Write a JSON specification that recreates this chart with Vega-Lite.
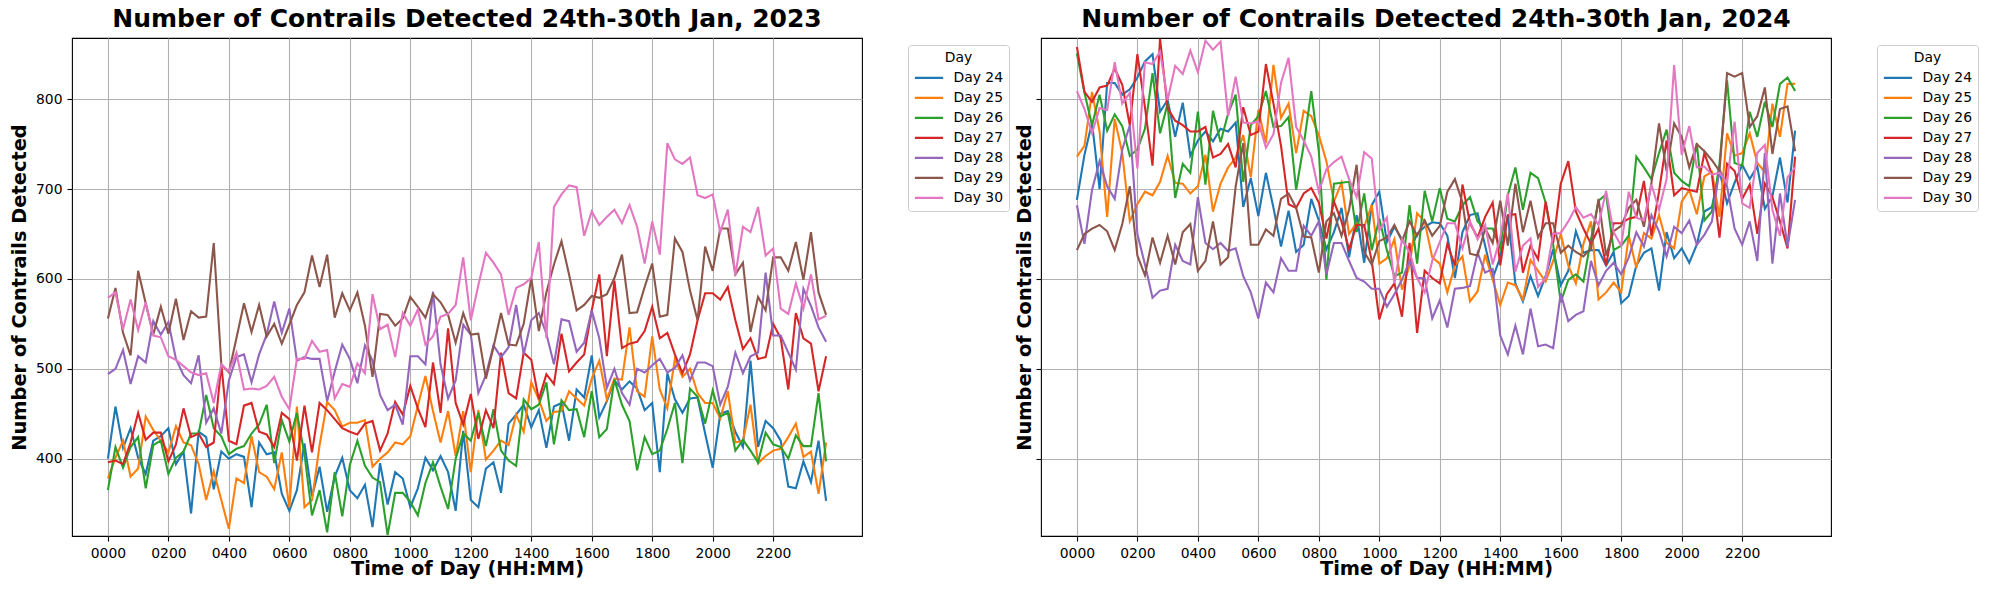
{
"$schema":"https://vega.github.io/schema/vega-lite/v6.json",
"background":"white",
"padding":{"left":8,"top":6,"right":0,"bottom":0},
"spacing":2,
"datasets":{
"y2023":[
{"m":0,"d":24,"n":400},{"m":15,"d":24,"n":458},{"m":30,"d":24,"n":412},{"m":45,"d":24,"n":434},{"m":60,"d":24,"n":401},{"m":75,"d":24,"n":383},{"m":90,"d":24,"n":420},{"m":105,"d":24,"n":425},
{"m":120,"d":24,"n":434},{"m":135,"d":24,"n":394},{"m":150,"d":24,"n":408},{"m":165,"d":24,"n":339},{"m":180,"d":24,"n":430},{"m":195,"d":24,"n":424},{"m":210,"d":24,"n":366},{"m":225,"d":24,"n":408},
{"m":240,"d":24,"n":400},{"m":255,"d":24,"n":405},{"m":270,"d":24,"n":402},{"m":285,"d":24,"n":346},{"m":300,"d":24,"n":418},{"m":315,"d":24,"n":405},{"m":330,"d":24,"n":407},{"m":345,"d":24,"n":361},
{"m":360,"d":24,"n":342},{"m":375,"d":24,"n":365},{"m":390,"d":24,"n":417},{"m":405,"d":24,"n":358},{"m":420,"d":24,"n":391},{"m":435,"d":24,"n":341},{"m":450,"d":24,"n":380},{"m":465,"d":24,"n":401},
{"m":480,"d":24,"n":365},{"m":495,"d":24,"n":356},{"m":510,"d":24,"n":371},{"m":525,"d":24,"n":324},{"m":540,"d":24,"n":395},{"m":555,"d":24,"n":349},{"m":570,"d":24,"n":385},{"m":585,"d":24,"n":378},
{"m":600,"d":24,"n":346},{"m":615,"d":24,"n":367},{"m":630,"d":24,"n":401},{"m":645,"d":24,"n":387},{"m":660,"d":24,"n":403},{"m":675,"d":24,"n":385},{"m":690,"d":24,"n":342},{"m":705,"d":24,"n":431},
{"m":720,"d":24,"n":354},{"m":735,"d":24,"n":346},{"m":750,"d":24,"n":389},{"m":765,"d":24,"n":396},{"m":780,"d":24,"n":362},{"m":795,"d":24,"n":439},{"m":810,"d":24,"n":449},{"m":825,"d":24,"n":460},
{"m":840,"d":24,"n":435},{"m":855,"d":24,"n":454},{"m":870,"d":24,"n":412},{"m":885,"d":24,"n":458},{"m":900,"d":24,"n":462},{"m":915,"d":24,"n":420},{"m":930,"d":24,"n":477},{"m":945,"d":24,"n":468},
{"m":960,"d":24,"n":515},{"m":975,"d":24,"n":446},{"m":990,"d":24,"n":464},{"m":1005,"d":24,"n":487},{"m":1020,"d":24,"n":477},{"m":1035,"d":24,"n":486},{"m":1050,"d":24,"n":478},{"m":1065,"d":24,"n":454},
{"m":1080,"d":24,"n":462},{"m":1095,"d":24,"n":385},{"m":1110,"d":24,"n":495},{"m":1125,"d":24,"n":466},{"m":1140,"d":24,"n":451},{"m":1155,"d":24,"n":467},{"m":1170,"d":24,"n":468},{"m":1185,"d":24,"n":428},
{"m":1200,"d":24,"n":390},{"m":1215,"d":24,"n":450},{"m":1230,"d":24,"n":453},{"m":1245,"d":24,"n":430},{"m":1260,"d":24,"n":413},{"m":1275,"d":24,"n":509},{"m":1290,"d":24,"n":413},{"m":1305,"d":24,"n":442},
{"m":1320,"d":24,"n":434},{"m":1335,"d":24,"n":420},{"m":1350,"d":24,"n":369},{"m":1365,"d":24,"n":367},{"m":1380,"d":24,"n":397},{"m":1395,"d":24,"n":374},{"m":1410,"d":24,"n":420},{"m":1425,"d":24,"n":353},
{"m":0,"d":25,"n":378},{"m":15,"d":25,"n":401},{"m":30,"d":25,"n":420},{"m":45,"d":25,"n":380},{"m":60,"d":25,"n":389},{"m":75,"d":25,"n":447},{"m":90,"d":25,"n":432},{"m":105,"d":25,"n":420},
{"m":120,"d":25,"n":407},{"m":135,"d":25,"n":436},{"m":150,"d":25,"n":418},{"m":165,"d":25,"n":415},{"m":180,"d":25,"n":394},{"m":195,"d":25,"n":354},{"m":210,"d":25,"n":386},{"m":225,"d":25,"n":354},
{"m":240,"d":25,"n":322},{"m":255,"d":25,"n":378},{"m":270,"d":25,"n":373},{"m":285,"d":25,"n":425},{"m":300,"d":25,"n":385},{"m":315,"d":25,"n":380},{"m":330,"d":25,"n":366},{"m":345,"d":25,"n":407},
{"m":360,"d":25,"n":346},{"m":375,"d":25,"n":458},{"m":390,"d":25,"n":346},{"m":405,"d":25,"n":354},{"m":420,"d":25,"n":415},{"m":435,"d":25,"n":463},{"m":450,"d":25,"n":454},{"m":465,"d":25,"n":436},
{"m":480,"d":25,"n":440},{"m":495,"d":25,"n":440},{"m":510,"d":25,"n":443},{"m":525,"d":25,"n":391},{"m":540,"d":25,"n":400},{"m":555,"d":25,"n":407},{"m":570,"d":25,"n":418},{"m":585,"d":25,"n":416},
{"m":600,"d":25,"n":425},{"m":615,"d":25,"n":459},{"m":630,"d":25,"n":492},{"m":645,"d":25,"n":453},{"m":660,"d":25,"n":418},{"m":675,"d":25,"n":453},{"m":690,"d":25,"n":403},{"m":705,"d":25,"n":453},
{"m":720,"d":25,"n":385},{"m":735,"d":25,"n":454},{"m":750,"d":25,"n":399},{"m":765,"d":25,"n":409},{"m":780,"d":25,"n":420},{"m":795,"d":25,"n":415},{"m":810,"d":25,"n":449},{"m":825,"d":25,"n":430},
{"m":840,"d":25,"n":485},{"m":855,"d":25,"n":466},{"m":870,"d":25,"n":442},{"m":885,"d":25,"n":452},{"m":900,"d":25,"n":453},{"m":915,"d":25,"n":475},{"m":930,"d":25,"n":467},{"m":945,"d":25,"n":459},
{"m":960,"d":25,"n":489},{"m":975,"d":25,"n":509},{"m":990,"d":25,"n":466},{"m":1005,"d":25,"n":489},{"m":1020,"d":25,"n":488},{"m":1035,"d":25,"n":546},{"m":1050,"d":25,"n":475},{"m":1065,"d":25,"n":469},
{"m":1080,"d":25,"n":536},{"m":1095,"d":25,"n":477},{"m":1110,"d":25,"n":456},{"m":1125,"d":25,"n":511},{"m":1140,"d":25,"n":491},{"m":1155,"d":25,"n":500},{"m":1170,"d":25,"n":473},{"m":1185,"d":25,"n":462},
{"m":1200,"d":25,"n":462},{"m":1215,"d":25,"n":445},{"m":1230,"d":25,"n":475},{"m":1245,"d":25,"n":418},{"m":1260,"d":25,"n":420},{"m":1275,"d":25,"n":460},{"m":1290,"d":25,"n":395},{"m":1305,"d":25,"n":403},
{"m":1320,"d":25,"n":409},{"m":1335,"d":25,"n":411},{"m":1350,"d":25,"n":424},{"m":1365,"d":25,"n":439},{"m":1380,"d":25,"n":402},{"m":1395,"d":25,"n":408},{"m":1410,"d":25,"n":361},{"m":1425,"d":25,"n":418},
{"m":0,"d":26,"n":365},{"m":15,"d":26,"n":413},{"m":30,"d":26,"n":390},{"m":45,"d":26,"n":413},{"m":60,"d":26,"n":424},{"m":75,"d":26,"n":367},{"m":90,"d":26,"n":415},{"m":105,"d":26,"n":420},
{"m":120,"d":26,"n":383},{"m":135,"d":26,"n":401},{"m":150,"d":26,"n":408},{"m":165,"d":26,"n":428},{"m":180,"d":26,"n":428},{"m":195,"d":26,"n":471},{"m":210,"d":26,"n":434},{"m":225,"d":26,"n":425},
{"m":240,"d":26,"n":405},{"m":255,"d":26,"n":411},{"m":270,"d":26,"n":414},{"m":285,"d":26,"n":428},{"m":300,"d":26,"n":438},{"m":315,"d":26,"n":460},{"m":330,"d":26,"n":395},{"m":345,"d":26,"n":443},
{"m":360,"d":26,"n":419},{"m":375,"d":26,"n":451},{"m":390,"d":26,"n":405},{"m":405,"d":26,"n":337},{"m":420,"d":26,"n":365},{"m":435,"d":26,"n":318},{"m":450,"d":26,"n":385},{"m":465,"d":26,"n":336},
{"m":480,"d":26,"n":393},{"m":495,"d":26,"n":420},{"m":510,"d":26,"n":392},{"m":525,"d":26,"n":379},{"m":540,"d":26,"n":374},{"m":555,"d":26,"n":315},{"m":570,"d":26,"n":362},{"m":585,"d":26,"n":362},
{"m":600,"d":26,"n":352},{"m":615,"d":26,"n":337},{"m":630,"d":26,"n":373},{"m":645,"d":26,"n":396},{"m":660,"d":26,"n":369},{"m":675,"d":26,"n":344},{"m":690,"d":26,"n":400},{"m":705,"d":26,"n":428},
{"m":720,"d":26,"n":420},{"m":735,"d":26,"n":451},{"m":750,"d":26,"n":414},{"m":765,"d":26,"n":455},{"m":780,"d":26,"n":409},{"m":795,"d":26,"n":398},{"m":810,"d":26,"n":392},{"m":825,"d":26,"n":466},
{"m":840,"d":26,"n":455},{"m":855,"d":26,"n":460},{"m":870,"d":26,"n":485},{"m":885,"d":26,"n":416},{"m":900,"d":26,"n":465},{"m":915,"d":26,"n":454},{"m":930,"d":26,"n":455},{"m":945,"d":26,"n":424},
{"m":960,"d":26,"n":475},{"m":975,"d":26,"n":424},{"m":990,"d":26,"n":433},{"m":1005,"d":26,"n":488},{"m":1020,"d":26,"n":460},{"m":1035,"d":26,"n":442},{"m":1050,"d":26,"n":387},{"m":1065,"d":26,"n":424},
{"m":1080,"d":26,"n":405},{"m":1095,"d":26,"n":409},{"m":1110,"d":26,"n":433},{"m":1125,"d":26,"n":462},{"m":1140,"d":26,"n":395},{"m":1155,"d":26,"n":478},{"m":1170,"d":26,"n":469},{"m":1185,"d":26,"n":439},
{"m":1200,"d":26,"n":476},{"m":1215,"d":26,"n":447},{"m":1230,"d":26,"n":451},{"m":1245,"d":26,"n":409},{"m":1260,"d":26,"n":421},{"m":1275,"d":26,"n":409},{"m":1290,"d":26,"n":396},{"m":1305,"d":26,"n":429},
{"m":1320,"d":26,"n":416},{"m":1335,"d":26,"n":413},{"m":1350,"d":26,"n":400},{"m":1365,"d":26,"n":426},{"m":1380,"d":26,"n":414},{"m":1395,"d":26,"n":414},{"m":1410,"d":26,"n":473},{"m":1425,"d":26,"n":397},
{"m":0,"d":27,"n":396},{"m":15,"d":27,"n":398},{"m":30,"d":27,"n":394},{"m":45,"d":27,"n":418},{"m":60,"d":27,"n":451},{"m":75,"d":27,"n":421},{"m":90,"d":27,"n":429},{"m":105,"d":27,"n":429},
{"m":120,"d":27,"n":397},{"m":135,"d":27,"n":416},{"m":150,"d":27,"n":456},{"m":165,"d":27,"n":424},{"m":180,"d":27,"n":428},{"m":195,"d":27,"n":413},{"m":210,"d":27,"n":418},{"m":225,"d":27,"n":505},
{"m":240,"d":27,"n":420},{"m":255,"d":27,"n":416},{"m":270,"d":27,"n":459},{"m":285,"d":27,"n":462},{"m":300,"d":27,"n":430},{"m":315,"d":27,"n":427},{"m":330,"d":27,"n":413},{"m":345,"d":27,"n":451},
{"m":360,"d":27,"n":444},{"m":375,"d":27,"n":398},{"m":390,"d":27,"n":459},{"m":405,"d":27,"n":407},{"m":420,"d":27,"n":462},{"m":435,"d":27,"n":454},{"m":450,"d":27,"n":444},{"m":465,"d":27,"n":434},
{"m":480,"d":27,"n":430},{"m":495,"d":27,"n":427},{"m":510,"d":27,"n":439},{"m":525,"d":27,"n":442},{"m":540,"d":27,"n":409},{"m":555,"d":27,"n":428},{"m":570,"d":27,"n":463},{"m":585,"d":27,"n":449},
{"m":600,"d":27,"n":481},{"m":615,"d":27,"n":456},{"m":630,"d":27,"n":435},{"m":645,"d":27,"n":507},{"m":660,"d":27,"n":451},{"m":675,"d":27,"n":545},{"m":690,"d":27,"n":462},{"m":705,"d":27,"n":438},
{"m":720,"d":27,"n":472},{"m":735,"d":27,"n":422},{"m":750,"d":27,"n":454},{"m":765,"d":27,"n":434},{"m":780,"d":27,"n":518},{"m":795,"d":27,"n":473},{"m":810,"d":27,"n":467},{"m":825,"d":27,"n":518},
{"m":840,"d":27,"n":510},{"m":855,"d":27,"n":466},{"m":870,"d":27,"n":494},{"m":885,"d":27,"n":483},{"m":900,"d":27,"n":539},{"m":915,"d":27,"n":497},{"m":930,"d":27,"n":507},{"m":945,"d":27,"n":516},
{"m":960,"d":27,"n":565},{"m":975,"d":27,"n":605},{"m":990,"d":27,"n":514},{"m":1005,"d":27,"n":598},{"m":1020,"d":27,"n":523},{"m":1035,"d":27,"n":528},{"m":1050,"d":27,"n":530},{"m":1065,"d":27,"n":542},
{"m":1080,"d":27,"n":569},{"m":1095,"d":27,"n":534},{"m":1110,"d":27,"n":540},{"m":1125,"d":27,"n":516},{"m":1140,"d":27,"n":495},{"m":1155,"d":27,"n":516},{"m":1170,"d":27,"n":554},{"m":1185,"d":27,"n":584},
{"m":1200,"d":27,"n":584},{"m":1215,"d":27,"n":577},{"m":1230,"d":27,"n":591},{"m":1245,"d":27,"n":554},{"m":1260,"d":27,"n":522},{"m":1275,"d":27,"n":534},{"m":1290,"d":27,"n":511},{"m":1305,"d":27,"n":513},
{"m":1320,"d":27,"n":550},{"m":1335,"d":27,"n":534},{"m":1350,"d":27,"n":477},{"m":1365,"d":27,"n":562},{"m":1380,"d":27,"n":534},{"m":1395,"d":27,"n":528},{"m":1410,"d":27,"n":475},{"m":1425,"d":27,"n":514},
{"m":0,"d":28,"n":494},{"m":15,"d":28,"n":500},{"m":30,"d":28,"n":521},{"m":45,"d":28,"n":483},{"m":60,"d":28,"n":514},{"m":75,"d":28,"n":507},{"m":90,"d":28,"n":553},{"m":105,"d":28,"n":538},
{"m":120,"d":28,"n":552},{"m":135,"d":28,"n":511},{"m":150,"d":28,"n":493},{"m":165,"d":28,"n":484},{"m":180,"d":28,"n":515},{"m":195,"d":28,"n":440},{"m":210,"d":28,"n":456},{"m":225,"d":28,"n":428},
{"m":240,"d":28,"n":487},{"m":255,"d":28,"n":513},{"m":270,"d":28,"n":516},{"m":285,"d":28,"n":485},{"m":300,"d":28,"n":516},{"m":315,"d":28,"n":538},{"m":330,"d":28,"n":575},{"m":345,"d":28,"n":540},
{"m":360,"d":28,"n":567},{"m":375,"d":28,"n":509},{"m":390,"d":28,"n":513},{"m":405,"d":28,"n":511},{"m":420,"d":28,"n":511},{"m":435,"d":28,"n":464},{"m":450,"d":28,"n":497},{"m":465,"d":28,"n":527},
{"m":480,"d":28,"n":511},{"m":495,"d":28,"n":484},{"m":510,"d":28,"n":526},{"m":525,"d":28,"n":509},{"m":540,"d":28,"n":471},{"m":555,"d":28,"n":454},{"m":570,"d":28,"n":460},{"m":585,"d":28,"n":438},
{"m":600,"d":28,"n":514},{"m":615,"d":28,"n":514},{"m":630,"d":28,"n":505},{"m":645,"d":28,"n":586},{"m":660,"d":28,"n":505},{"m":675,"d":28,"n":467},{"m":690,"d":28,"n":487},{"m":705,"d":28,"n":549},
{"m":720,"d":28,"n":538},{"m":735,"d":28,"n":473},{"m":750,"d":28,"n":493},{"m":765,"d":28,"n":526},{"m":780,"d":28,"n":513},{"m":795,"d":28,"n":524},{"m":810,"d":28,"n":571},{"m":825,"d":28,"n":516},
{"m":840,"d":28,"n":554},{"m":855,"d":28,"n":562},{"m":870,"d":28,"n":539},{"m":885,"d":28,"n":505},{"m":900,"d":28,"n":555},{"m":915,"d":28,"n":553},{"m":930,"d":28,"n":519},{"m":945,"d":28,"n":529},
{"m":960,"d":28,"n":565},{"m":975,"d":28,"n":534},{"m":990,"d":28,"n":479},{"m":1005,"d":28,"n":500},{"m":1020,"d":28,"n":473},{"m":1035,"d":28,"n":460},{"m":1050,"d":28,"n":500},{"m":1065,"d":28,"n":496},
{"m":1080,"d":28,"n":504},{"m":1095,"d":28,"n":511},{"m":1110,"d":28,"n":496},{"m":1125,"d":28,"n":501},{"m":1140,"d":28,"n":515},{"m":1155,"d":28,"n":487},{"m":1170,"d":28,"n":507},{"m":1185,"d":28,"n":507},
{"m":1200,"d":28,"n":503},{"m":1215,"d":28,"n":460},{"m":1230,"d":28,"n":480},{"m":1245,"d":28,"n":518},{"m":1260,"d":28,"n":495},{"m":1275,"d":28,"n":514},{"m":1290,"d":28,"n":518},{"m":1305,"d":28,"n":607},
{"m":1320,"d":28,"n":537},{"m":1335,"d":28,"n":537},{"m":1350,"d":28,"n":518},{"m":1365,"d":28,"n":499},{"m":1380,"d":28,"n":589},{"m":1395,"d":28,"n":570},{"m":1410,"d":28,"n":546},{"m":1425,"d":28,"n":530},
{"m":0,"d":29,"n":556},{"m":15,"d":29,"n":590},{"m":30,"d":29,"n":540},{"m":45,"d":29,"n":515},{"m":60,"d":29,"n":609},{"m":75,"d":29,"n":573},{"m":90,"d":29,"n":538},{"m":105,"d":29,"n":569},
{"m":120,"d":29,"n":539},{"m":135,"d":29,"n":578},{"m":150,"d":29,"n":532},{"m":165,"d":29,"n":564},{"m":180,"d":29,"n":557},{"m":195,"d":29,"n":558},{"m":210,"d":29,"n":640},{"m":225,"d":29,"n":505},
{"m":240,"d":29,"n":496},{"m":255,"d":29,"n":534},{"m":270,"d":29,"n":573},{"m":285,"d":29,"n":541},{"m":300,"d":29,"n":571},{"m":315,"d":29,"n":536},{"m":330,"d":29,"n":550},{"m":345,"d":29,"n":528},
{"m":360,"d":29,"n":549},{"m":375,"d":29,"n":571},{"m":390,"d":29,"n":585},{"m":405,"d":29,"n":626},{"m":420,"d":29,"n":591},{"m":435,"d":29,"n":627},{"m":450,"d":29,"n":557},{"m":465,"d":29,"n":584},
{"m":480,"d":29,"n":565},{"m":495,"d":29,"n":585},{"m":510,"d":29,"n":548},{"m":525,"d":29,"n":491},{"m":540,"d":29,"n":561},{"m":555,"d":29,"n":560},{"m":570,"d":29,"n":548},{"m":585,"d":29,"n":556},
{"m":600,"d":29,"n":580},{"m":615,"d":29,"n":569},{"m":630,"d":29,"n":557},{"m":645,"d":29,"n":583},{"m":660,"d":29,"n":574},{"m":675,"d":29,"n":560},{"m":690,"d":29,"n":529},{"m":705,"d":29,"n":562},
{"m":720,"d":29,"n":538},{"m":735,"d":29,"n":539},{"m":750,"d":29,"n":489},{"m":765,"d":29,"n":524},{"m":780,"d":29,"n":562},{"m":795,"d":29,"n":527},{"m":810,"d":29,"n":526},{"m":825,"d":29,"n":550},
{"m":840,"d":29,"n":601},{"m":855,"d":29,"n":542},{"m":870,"d":29,"n":585},{"m":885,"d":29,"n":616},{"m":900,"d":29,"n":642},{"m":915,"d":29,"n":605},{"m":930,"d":29,"n":565},{"m":945,"d":29,"n":571},
{"m":960,"d":29,"n":581},{"m":975,"d":29,"n":579},{"m":990,"d":29,"n":583},{"m":1005,"d":29,"n":601},{"m":1020,"d":29,"n":627},{"m":1035,"d":29,"n":562},{"m":1050,"d":29,"n":563},{"m":1065,"d":29,"n":591},
{"m":1080,"d":29,"n":617},{"m":1095,"d":29,"n":558},{"m":1110,"d":29,"n":560},{"m":1125,"d":29,"n":645},{"m":1140,"d":29,"n":630},{"m":1155,"d":29,"n":587},{"m":1170,"d":29,"n":554},{"m":1185,"d":29,"n":636},
{"m":1200,"d":29,"n":609},{"m":1215,"d":29,"n":656},{"m":1230,"d":29,"n":656},{"m":1245,"d":29,"n":605},{"m":1260,"d":29,"n":618},{"m":1275,"d":29,"n":541},{"m":1290,"d":29,"n":580},{"m":1305,"d":29,"n":565},
{"m":1320,"d":29,"n":624},{"m":1335,"d":29,"n":624},{"m":1350,"d":29,"n":609},{"m":1365,"d":29,"n":641},{"m":1380,"d":29,"n":599},{"m":1395,"d":29,"n":652},{"m":1410,"d":29,"n":585},{"m":1425,"d":29,"n":560},
{"m":0,"d":30,"n":579},{"m":15,"d":30,"n":585},{"m":30,"d":30,"n":544},{"m":45,"d":30,"n":577},{"m":60,"d":30,"n":543},{"m":75,"d":30,"n":574},{"m":90,"d":30,"n":537},{"m":105,"d":30,"n":535},
{"m":120,"d":30,"n":514},{"m":135,"d":30,"n":510},{"m":150,"d":30,"n":503},{"m":165,"d":30,"n":496},{"m":180,"d":30,"n":493},{"m":195,"d":30,"n":495},{"m":210,"d":30,"n":462},{"m":225,"d":30,"n":505},
{"m":240,"d":30,"n":497},{"m":255,"d":30,"n":518},{"m":270,"d":30,"n":477},{"m":285,"d":30,"n":478},{"m":300,"d":30,"n":477},{"m":315,"d":30,"n":481},{"m":330,"d":30,"n":491},{"m":345,"d":30,"n":469},
{"m":360,"d":30,"n":455},{"m":375,"d":30,"n":511},{"m":390,"d":30,"n":511},{"m":405,"d":30,"n":531},{"m":420,"d":30,"n":519},{"m":435,"d":30,"n":521},{"m":450,"d":30,"n":467},{"m":465,"d":30,"n":483},
{"m":480,"d":30,"n":480},{"m":495,"d":30,"n":506},{"m":510,"d":30,"n":495},{"m":525,"d":30,"n":583},{"m":540,"d":30,"n":544},{"m":555,"d":30,"n":549},{"m":570,"d":30,"n":513},{"m":585,"d":30,"n":562},
{"m":600,"d":30,"n":548},{"m":615,"d":30,"n":566},{"m":630,"d":30,"n":527},{"m":645,"d":30,"n":536},{"m":660,"d":30,"n":558},{"m":675,"d":30,"n":561},{"m":690,"d":30,"n":571},{"m":705,"d":30,"n":624},
{"m":720,"d":30,"n":554},{"m":735,"d":30,"n":593},{"m":750,"d":30,"n":629},{"m":765,"d":30,"n":618},{"m":780,"d":30,"n":605},{"m":795,"d":30,"n":560},{"m":810,"d":30,"n":590},{"m":825,"d":30,"n":594},
{"m":840,"d":30,"n":601},{"m":855,"d":30,"n":641},{"m":870,"d":30,"n":534},{"m":885,"d":30,"n":680},{"m":900,"d":30,"n":694},{"m":915,"d":30,"n":704},{"m":930,"d":30,"n":702},{"m":945,"d":30,"n":648},
{"m":960,"d":30,"n":675},{"m":975,"d":30,"n":660},{"m":990,"d":30,"n":669},{"m":1005,"d":30,"n":677},{"m":1020,"d":30,"n":662},{"m":1035,"d":30,"n":682},{"m":1050,"d":30,"n":658},{"m":1065,"d":30,"n":617},
{"m":1080,"d":30,"n":664},{"m":1095,"d":30,"n":627},{"m":1110,"d":30,"n":751},{"m":1125,"d":30,"n":733},{"m":1140,"d":30,"n":728},{"m":1155,"d":30,"n":735},{"m":1170,"d":30,"n":693},{"m":1185,"d":30,"n":690},
{"m":1200,"d":30,"n":694},{"m":1215,"d":30,"n":652},{"m":1230,"d":30,"n":677},{"m":1245,"d":30,"n":604},{"m":1260,"d":30,"n":658},{"m":1275,"d":30,"n":652},{"m":1290,"d":30,"n":680},{"m":1305,"d":30,"n":626},
{"m":1320,"d":30,"n":634},{"m":1335,"d":30,"n":567},{"m":1350,"d":30,"n":561},{"m":1365,"d":30,"n":595},{"m":1380,"d":30,"n":567},{"m":1395,"d":30,"n":605},{"m":1410,"d":30,"n":555},{"m":1425,"d":30,"n":559}
],
"y2024":[
{"m":0,"d":24,"n":688},{"m":15,"d":24,"n":738},{"m":30,"d":24,"n":774},{"m":45,"d":24,"n":700},{"m":60,"d":24,"n":818},{"m":75,"d":24,"n":818},{"m":90,"d":24,"n":805},{"m":105,"d":24,"n":811},
{"m":120,"d":24,"n":824},{"m":135,"d":24,"n":842},{"m":150,"d":24,"n":850},{"m":165,"d":24,"n":786},{"m":180,"d":24,"n":799},{"m":195,"d":24,"n":758},{"m":210,"d":24,"n":796},{"m":225,"d":24,"n":737},
{"m":240,"d":24,"n":754},{"m":255,"d":24,"n":764},{"m":270,"d":24,"n":753},{"m":285,"d":24,"n":767},{"m":300,"d":24,"n":764},{"m":315,"d":24,"n":774},{"m":330,"d":24,"n":680},{"m":345,"d":24,"n":712},
{"m":360,"d":24,"n":670},{"m":375,"d":24,"n":718},{"m":390,"d":24,"n":679},{"m":405,"d":24,"n":636},{"m":420,"d":24,"n":676},{"m":435,"d":24,"n":630},{"m":450,"d":24,"n":638},{"m":465,"d":24,"n":689},
{"m":480,"d":24,"n":665},{"m":495,"d":24,"n":633},{"m":510,"d":24,"n":652},{"m":525,"d":24,"n":679},{"m":540,"d":24,"n":624},{"m":555,"d":24,"n":671},{"m":570,"d":24,"n":618},{"m":585,"d":24,"n":682},
{"m":600,"d":24,"n":697},{"m":615,"d":24,"n":641},{"m":630,"d":24,"n":658},{"m":645,"d":24,"n":644},{"m":660,"d":24,"n":630},{"m":675,"d":24,"n":650},{"m":690,"d":24,"n":658},{"m":705,"d":24,"n":663},
{"m":720,"d":24,"n":662},{"m":735,"d":24,"n":648},{"m":750,"d":24,"n":601},{"m":765,"d":24,"n":652},{"m":780,"d":24,"n":671},{"m":795,"d":24,"n":673},{"m":810,"d":24,"n":637},{"m":825,"d":24,"n":601},
{"m":840,"d":24,"n":624},{"m":855,"d":24,"n":671},{"m":870,"d":24,"n":595},{"m":885,"d":24,"n":575},{"m":900,"d":24,"n":603},{"m":915,"d":24,"n":581},{"m":930,"d":24,"n":603},{"m":945,"d":24,"n":633},
{"m":960,"d":24,"n":593},{"m":975,"d":24,"n":609},{"m":990,"d":24,"n":653},{"m":1005,"d":24,"n":629},{"m":1020,"d":24,"n":632},{"m":1035,"d":24,"n":632},{"m":1050,"d":24,"n":615},{"m":1065,"d":24,"n":630},
{"m":1080,"d":24,"n":573},{"m":1095,"d":24,"n":581},{"m":1110,"d":24,"n":615},{"m":1125,"d":24,"n":629},{"m":1140,"d":24,"n":634},{"m":1155,"d":24,"n":587},{"m":1170,"d":24,"n":652},{"m":1185,"d":24,"n":623},
{"m":1200,"d":24,"n":634},{"m":1215,"d":24,"n":618},{"m":1230,"d":24,"n":638},{"m":1245,"d":24,"n":675},{"m":1260,"d":24,"n":680},{"m":1275,"d":24,"n":720},{"m":1290,"d":24,"n":684},{"m":1305,"d":24,"n":707},
{"m":1320,"d":24,"n":727},{"m":1335,"d":24,"n":711},{"m":1350,"d":24,"n":725},{"m":1365,"d":24,"n":678},{"m":1380,"d":24,"n":692},{"m":1395,"d":24,"n":735},{"m":1410,"d":24,"n":685},{"m":1425,"d":24,"n":765},
{"m":0,"d":25,"n":736},{"m":15,"d":25,"n":748},{"m":30,"d":25,"n":808},{"m":45,"d":25,"n":764},{"m":60,"d":25,"n":669},{"m":75,"d":25,"n":778},{"m":90,"d":25,"n":740},{"m":105,"d":25,"n":664},
{"m":120,"d":25,"n":683},{"m":135,"d":25,"n":697},{"m":150,"d":25,"n":693},{"m":165,"d":25,"n":708},{"m":180,"d":25,"n":737},{"m":195,"d":25,"n":707},{"m":210,"d":25,"n":706},{"m":225,"d":25,"n":695},
{"m":240,"d":25,"n":703},{"m":255,"d":25,"n":738},{"m":270,"d":25,"n":675},{"m":285,"d":25,"n":706},{"m":300,"d":25,"n":724},{"m":315,"d":25,"n":735},{"m":330,"d":25,"n":760},{"m":345,"d":25,"n":713},
{"m":360,"d":25,"n":788},{"m":375,"d":25,"n":751},{"m":390,"d":25,"n":838},{"m":405,"d":25,"n":779},{"m":420,"d":25,"n":795},{"m":435,"d":25,"n":740},{"m":450,"d":25,"n":787},{"m":465,"d":25,"n":781},
{"m":480,"d":25,"n":760},{"m":495,"d":25,"n":731},{"m":510,"d":25,"n":686},{"m":525,"d":25,"n":707},{"m":540,"d":25,"n":650},{"m":555,"d":25,"n":662},{"m":570,"d":25,"n":658},{"m":585,"d":25,"n":682},
{"m":600,"d":25,"n":617},{"m":615,"d":25,"n":623},{"m":630,"d":25,"n":644},{"m":645,"d":25,"n":588},{"m":660,"d":25,"n":615},{"m":675,"d":25,"n":673},{"m":690,"d":25,"n":664},{"m":705,"d":25,"n":624},
{"m":720,"d":25,"n":617},{"m":735,"d":25,"n":585},{"m":750,"d":25,"n":615},{"m":765,"d":25,"n":625},{"m":780,"d":25,"n":575},{"m":795,"d":25,"n":586},{"m":810,"d":25,"n":627},{"m":825,"d":25,"n":599},
{"m":840,"d":25,"n":571},{"m":855,"d":25,"n":596},{"m":870,"d":25,"n":593},{"m":885,"d":25,"n":577},{"m":900,"d":25,"n":621},{"m":915,"d":25,"n":609},{"m":930,"d":25,"n":597},{"m":945,"d":25,"n":620},
{"m":960,"d":25,"n":650},{"m":975,"d":25,"n":615},{"m":990,"d":25,"n":595},{"m":1005,"d":25,"n":639},{"m":1020,"d":25,"n":664},{"m":1035,"d":25,"n":577},{"m":1050,"d":25,"n":585},{"m":1065,"d":25,"n":596},
{"m":1080,"d":25,"n":585},{"m":1095,"d":25,"n":648},{"m":1110,"d":25,"n":612},{"m":1125,"d":25,"n":651},{"m":1140,"d":25,"n":645},{"m":1155,"d":25,"n":671},{"m":1170,"d":25,"n":640},{"m":1185,"d":25,"n":634},
{"m":1200,"d":25,"n":686},{"m":1215,"d":25,"n":699},{"m":1230,"d":25,"n":672},{"m":1245,"d":25,"n":714},{"m":1260,"d":25,"n":719},{"m":1275,"d":25,"n":669},{"m":1290,"d":25,"n":762},{"m":1305,"d":25,"n":737},
{"m":1320,"d":25,"n":740},{"m":1335,"d":25,"n":762},{"m":1350,"d":25,"n":729},{"m":1365,"d":25,"n":719},{"m":1380,"d":25,"n":795},{"m":1395,"d":25,"n":758},{"m":1410,"d":25,"n":817},{"m":1425,"d":25,"n":817},
{"m":0,"d":26,"n":851},{"m":15,"d":26,"n":807},{"m":30,"d":26,"n":771},{"m":45,"d":26,"n":805},{"m":60,"d":26,"n":765},{"m":75,"d":26,"n":783},{"m":90,"d":26,"n":770},{"m":105,"d":26,"n":737},
{"m":120,"d":26,"n":744},{"m":135,"d":26,"n":767},{"m":150,"d":26,"n":829},{"m":165,"d":26,"n":762},{"m":180,"d":26,"n":795},{"m":195,"d":26,"n":690},{"m":210,"d":26,"n":728},{"m":225,"d":26,"n":718},
{"m":240,"d":26,"n":786},{"m":255,"d":26,"n":705},{"m":270,"d":26,"n":787},{"m":285,"d":26,"n":752},{"m":300,"d":26,"n":784},{"m":315,"d":26,"n":805},{"m":330,"d":26,"n":708},{"m":345,"d":26,"n":771},
{"m":360,"d":26,"n":781},{"m":375,"d":26,"n":809},{"m":390,"d":26,"n":769},{"m":405,"d":26,"n":770},{"m":420,"d":26,"n":780},{"m":435,"d":26,"n":699},{"m":450,"d":26,"n":749},{"m":465,"d":26,"n":809},
{"m":480,"d":26,"n":742},{"m":495,"d":26,"n":599},{"m":510,"d":26,"n":706},{"m":525,"d":26,"n":707},{"m":540,"d":26,"n":708},{"m":555,"d":26,"n":652},{"m":570,"d":26,"n":695},{"m":585,"d":26,"n":632},
{"m":600,"d":26,"n":667},{"m":615,"d":26,"n":632},{"m":630,"d":26,"n":603},{"m":645,"d":26,"n":607},{"m":660,"d":26,"n":682},{"m":675,"d":26,"n":617},{"m":690,"d":26,"n":698},{"m":705,"d":26,"n":664},
{"m":720,"d":26,"n":701},{"m":735,"d":26,"n":667},{"m":750,"d":26,"n":664},{"m":765,"d":26,"n":682},{"m":780,"d":26,"n":691},{"m":795,"d":26,"n":664},{"m":810,"d":26,"n":656},{"m":825,"d":26,"n":656},
{"m":840,"d":26,"n":634},{"m":855,"d":26,"n":693},{"m":870,"d":26,"n":724},{"m":885,"d":26,"n":677},{"m":900,"d":26,"n":718},{"m":915,"d":26,"n":712},{"m":930,"d":26,"n":685},{"m":945,"d":26,"n":638},
{"m":960,"d":26,"n":574},{"m":975,"d":26,"n":599},{"m":990,"d":26,"n":605},{"m":1005,"d":26,"n":597},{"m":1020,"d":26,"n":644},{"m":1035,"d":26,"n":687},{"m":1050,"d":26,"n":694},{"m":1065,"d":26,"n":632},
{"m":1080,"d":26,"n":637},{"m":1095,"d":26,"n":648},{"m":1110,"d":26,"n":736},{"m":1125,"d":26,"n":724},{"m":1140,"d":26,"n":711},{"m":1155,"d":26,"n":740},{"m":1170,"d":26,"n":766},{"m":1185,"d":26,"n":718},
{"m":1200,"d":26,"n":709},{"m":1215,"d":26,"n":703},{"m":1230,"d":26,"n":751},{"m":1245,"d":26,"n":665},{"m":1260,"d":26,"n":675},{"m":1275,"d":26,"n":728},{"m":1290,"d":26,"n":821},{"m":1305,"d":26,"n":729},
{"m":1320,"d":26,"n":726},{"m":1335,"d":26,"n":786},{"m":1350,"d":26,"n":758},{"m":1365,"d":26,"n":797},{"m":1380,"d":26,"n":769},{"m":1395,"d":26,"n":817},{"m":1410,"d":26,"n":824},{"m":1425,"d":26,"n":809},
{"m":0,"d":27,"n":858},{"m":15,"d":27,"n":808},{"m":30,"d":27,"n":797},{"m":45,"d":27,"n":813},{"m":60,"d":27,"n":815},{"m":75,"d":27,"n":834},{"m":90,"d":27,"n":816},{"m":105,"d":27,"n":771},
{"m":120,"d":27,"n":850},{"m":135,"d":27,"n":791},{"m":150,"d":27,"n":726},{"m":165,"d":27,"n":867},{"m":180,"d":27,"n":790},{"m":195,"d":27,"n":776},{"m":210,"d":27,"n":771},{"m":225,"d":27,"n":764},
{"m":240,"d":27,"n":764},{"m":255,"d":27,"n":769},{"m":270,"d":27,"n":735},{"m":285,"d":27,"n":739},{"m":300,"d":27,"n":750},{"m":315,"d":27,"n":724},{"m":330,"d":27,"n":791},{"m":345,"d":27,"n":760},
{"m":360,"d":27,"n":764},{"m":375,"d":27,"n":839},{"m":390,"d":27,"n":795},{"m":405,"d":27,"n":748},{"m":420,"d":27,"n":683},{"m":435,"d":27,"n":679},{"m":450,"d":27,"n":695},{"m":465,"d":27,"n":701},
{"m":480,"d":27,"n":685},{"m":495,"d":27,"n":645},{"m":510,"d":27,"n":686},{"m":525,"d":27,"n":664},{"m":540,"d":27,"n":633},{"m":555,"d":27,"n":660},{"m":570,"d":27,"n":660},{"m":585,"d":27,"n":620},
{"m":600,"d":27,"n":555},{"m":615,"d":27,"n":583},{"m":630,"d":27,"n":595},{"m":645,"d":27,"n":558},{"m":660,"d":27,"n":640},{"m":675,"d":27,"n":540},{"m":690,"d":27,"n":609},{"m":705,"d":27,"n":601},
{"m":720,"d":27,"n":595},{"m":735,"d":27,"n":639},{"m":750,"d":27,"n":615},{"m":765,"d":27,"n":705},{"m":780,"d":27,"n":662},{"m":795,"d":27,"n":646},{"m":810,"d":27,"n":669},{"m":825,"d":27,"n":685},
{"m":840,"d":27,"n":615},{"m":855,"d":27,"n":671},{"m":870,"d":27,"n":672},{"m":885,"d":27,"n":607},{"m":900,"d":27,"n":637},{"m":915,"d":27,"n":622},{"m":930,"d":27,"n":686},{"m":945,"d":27,"n":640},
{"m":960,"d":27,"n":706},{"m":975,"d":27,"n":731},{"m":990,"d":27,"n":675},{"m":1005,"d":27,"n":656},{"m":1020,"d":27,"n":639},{"m":1035,"d":27,"n":656},{"m":1050,"d":27,"n":615},{"m":1065,"d":27,"n":662},
{"m":1080,"d":27,"n":662},{"m":1095,"d":27,"n":667},{"m":1110,"d":27,"n":669},{"m":1125,"d":27,"n":709},{"m":1140,"d":27,"n":648},{"m":1155,"d":27,"n":697},{"m":1170,"d":27,"n":754},{"m":1185,"d":27,"n":693},
{"m":1200,"d":27,"n":701},{"m":1215,"d":27,"n":699},{"m":1230,"d":27,"n":697},{"m":1245,"d":27,"n":740},{"m":1260,"d":27,"n":716},{"m":1275,"d":27,"n":646},{"m":1290,"d":27,"n":728},{"m":1305,"d":27,"n":720},
{"m":1320,"d":27,"n":689},{"m":1335,"d":27,"n":705},{"m":1350,"d":27,"n":650},{"m":1365,"d":27,"n":706},{"m":1380,"d":27,"n":691},{"m":1395,"d":27,"n":664},{"m":1410,"d":27,"n":634},{"m":1425,"d":27,"n":736},
{"m":0,"d":28,"n":682},{"m":15,"d":28,"n":639},{"m":30,"d":28,"n":699},{"m":45,"d":28,"n":731},{"m":60,"d":28,"n":703},{"m":75,"d":28,"n":689},{"m":90,"d":28,"n":744},{"m":105,"d":28,"n":771},
{"m":120,"d":28,"n":650},{"m":135,"d":28,"n":616},{"m":150,"d":28,"n":579},{"m":165,"d":28,"n":587},{"m":180,"d":28,"n":589},{"m":195,"d":28,"n":638},{"m":210,"d":28,"n":620},{"m":225,"d":28,"n":616},
{"m":240,"d":28,"n":691},{"m":255,"d":28,"n":640},{"m":270,"d":28,"n":633},{"m":285,"d":28,"n":640},{"m":300,"d":28,"n":631},{"m":315,"d":28,"n":634},{"m":330,"d":28,"n":603},{"m":345,"d":28,"n":585},
{"m":360,"d":28,"n":556},{"m":375,"d":28,"n":596},{"m":390,"d":28,"n":585},{"m":405,"d":28,"n":623},{"m":420,"d":28,"n":609},{"m":435,"d":28,"n":609},{"m":450,"d":28,"n":659},{"m":465,"d":28,"n":648},
{"m":480,"d":28,"n":664},{"m":495,"d":28,"n":605},{"m":510,"d":28,"n":640},{"m":525,"d":28,"n":640},{"m":540,"d":28,"n":620},{"m":555,"d":28,"n":601},{"m":570,"d":28,"n":597},{"m":585,"d":28,"n":589},
{"m":600,"d":28,"n":589},{"m":615,"d":28,"n":569},{"m":630,"d":28,"n":583},{"m":645,"d":28,"n":599},{"m":660,"d":28,"n":620},{"m":675,"d":28,"n":601},{"m":690,"d":28,"n":601},{"m":705,"d":28,"n":556},
{"m":720,"d":28,"n":576},{"m":735,"d":28,"n":546},{"m":750,"d":28,"n":589},{"m":765,"d":28,"n":590},{"m":780,"d":28,"n":592},{"m":795,"d":28,"n":629},{"m":810,"d":28,"n":607},{"m":825,"d":28,"n":611},
{"m":840,"d":28,"n":537},{"m":855,"d":28,"n":516},{"m":870,"d":28,"n":548},{"m":885,"d":28,"n":516},{"m":900,"d":28,"n":567},{"m":915,"d":28,"n":525},{"m":930,"d":28,"n":527},{"m":945,"d":28,"n":523},
{"m":960,"d":28,"n":584},{"m":975,"d":28,"n":553},{"m":990,"d":28,"n":560},{"m":1005,"d":28,"n":564},{"m":1020,"d":28,"n":620},{"m":1035,"d":28,"n":593},{"m":1050,"d":28,"n":609},{"m":1065,"d":28,"n":618},
{"m":1080,"d":28,"n":605},{"m":1095,"d":28,"n":624},{"m":1110,"d":28,"n":652},{"m":1125,"d":28,"n":636},{"m":1140,"d":28,"n":671},{"m":1155,"d":28,"n":653},{"m":1170,"d":28,"n":625},{"m":1185,"d":28,"n":658},
{"m":1200,"d":28,"n":651},{"m":1215,"d":28,"n":665},{"m":1230,"d":28,"n":638},{"m":1245,"d":28,"n":649},{"m":1260,"d":28,"n":664},{"m":1275,"d":28,"n":722},{"m":1290,"d":28,"n":703},{"m":1305,"d":28,"n":656},
{"m":1320,"d":28,"n":638},{"m":1335,"d":28,"n":664},{"m":1350,"d":28,"n":620},{"m":1365,"d":28,"n":740},{"m":1380,"d":28,"n":617},{"m":1395,"d":28,"n":695},{"m":1410,"d":28,"n":636},{"m":1425,"d":28,"n":688},
{"m":0,"d":29,"n":632},{"m":15,"d":29,"n":650},{"m":30,"d":29,"n":656},{"m":45,"d":29,"n":660},{"m":60,"d":29,"n":653},{"m":75,"d":29,"n":632},{"m":90,"d":29,"n":661},{"m":105,"d":29,"n":703},
{"m":120,"d":29,"n":626},{"m":135,"d":29,"n":604},{"m":150,"d":29,"n":646},{"m":165,"d":29,"n":618},{"m":180,"d":29,"n":648},{"m":195,"d":29,"n":616},{"m":210,"d":29,"n":652},{"m":225,"d":29,"n":661},
{"m":240,"d":29,"n":609},{"m":255,"d":29,"n":620},{"m":270,"d":29,"n":664},{"m":285,"d":29,"n":616},{"m":300,"d":29,"n":624},{"m":315,"d":29,"n":703},{"m":330,"d":29,"n":751},{"m":345,"d":29,"n":638},
{"m":360,"d":29,"n":638},{"m":375,"d":29,"n":655},{"m":390,"d":29,"n":648},{"m":405,"d":29,"n":689},{"m":420,"d":29,"n":695},{"m":435,"d":29,"n":679},{"m":450,"d":29,"n":647},{"m":465,"d":29,"n":646},
{"m":480,"d":29,"n":607},{"m":495,"d":29,"n":664},{"m":510,"d":29,"n":673},{"m":525,"d":29,"n":648},{"m":540,"d":29,"n":677},{"m":555,"d":29,"n":727},{"m":570,"d":29,"n":630},{"m":585,"d":29,"n":616},
{"m":600,"d":29,"n":642},{"m":615,"d":29,"n":646},{"m":630,"d":29,"n":660},{"m":645,"d":29,"n":642},{"m":660,"d":29,"n":664},{"m":675,"d":29,"n":648},{"m":690,"d":29,"n":665},{"m":705,"d":29,"n":648},
{"m":720,"d":29,"n":659},{"m":735,"d":29,"n":697},{"m":750,"d":29,"n":711},{"m":765,"d":29,"n":685},{"m":780,"d":29,"n":628},{"m":795,"d":29,"n":626},{"m":810,"d":29,"n":656},{"m":825,"d":29,"n":640},
{"m":840,"d":29,"n":687},{"m":855,"d":29,"n":637},{"m":870,"d":29,"n":706},{"m":885,"d":29,"n":652},{"m":900,"d":29,"n":687},{"m":915,"d":29,"n":646},{"m":930,"d":29,"n":662},{"m":945,"d":29,"n":662},
{"m":960,"d":29,"n":629},{"m":975,"d":29,"n":637},{"m":990,"d":29,"n":630},{"m":1005,"d":29,"n":625},{"m":1020,"d":29,"n":634},{"m":1035,"d":29,"n":689},{"m":1050,"d":29,"n":626},{"m":1065,"d":29,"n":653},
{"m":1080,"d":29,"n":659},{"m":1095,"d":29,"n":679},{"m":1110,"d":29,"n":688},{"m":1125,"d":29,"n":658},{"m":1140,"d":29,"n":707},{"m":1155,"d":29,"n":773},{"m":1170,"d":29,"n":720},{"m":1185,"d":29,"n":773},
{"m":1200,"d":29,"n":758},{"m":1215,"d":29,"n":724},{"m":1230,"d":29,"n":750},{"m":1245,"d":29,"n":742},{"m":1260,"d":29,"n":732},{"m":1275,"d":29,"n":720},{"m":1290,"d":29,"n":829},{"m":1305,"d":29,"n":825},
{"m":1320,"d":29,"n":829},{"m":1335,"d":29,"n":769},{"m":1350,"d":29,"n":781},{"m":1365,"d":29,"n":813},{"m":1380,"d":29,"n":739},{"m":1395,"d":29,"n":789},{"m":1410,"d":29,"n":792},{"m":1425,"d":29,"n":742},
{"m":0,"d":30,"n":809},{"m":15,"d":30,"n":789},{"m":30,"d":30,"n":762},{"m":45,"d":30,"n":790},{"m":60,"d":30,"n":788},{"m":75,"d":30,"n":841},{"m":90,"d":30,"n":795},{"m":105,"d":30,"n":807},
{"m":120,"d":30,"n":723},{"m":135,"d":30,"n":841},{"m":150,"d":30,"n":839},{"m":165,"d":30,"n":853},{"m":180,"d":30,"n":799},{"m":195,"d":30,"n":837},{"m":210,"d":30,"n":828},{"m":225,"d":30,"n":854},
{"m":240,"d":30,"n":830},{"m":255,"d":30,"n":865},{"m":270,"d":30,"n":855},{"m":285,"d":30,"n":864},{"m":300,"d":30,"n":781},{"m":315,"d":30,"n":825},{"m":330,"d":30,"n":774},{"m":345,"d":30,"n":773},
{"m":360,"d":30,"n":775},{"m":375,"d":30,"n":746},{"m":390,"d":30,"n":761},{"m":405,"d":30,"n":818},{"m":420,"d":30,"n":846},{"m":435,"d":30,"n":769},{"m":450,"d":30,"n":754},{"m":465,"d":30,"n":736},
{"m":480,"d":30,"n":697},{"m":495,"d":30,"n":722},{"m":510,"d":30,"n":730},{"m":525,"d":30,"n":736},{"m":540,"d":30,"n":711},{"m":555,"d":30,"n":691},{"m":570,"d":30,"n":741},{"m":585,"d":30,"n":734},
{"m":600,"d":30,"n":654},{"m":615,"d":30,"n":668},{"m":630,"d":30,"n":595},{"m":645,"d":30,"n":644},{"m":660,"d":30,"n":630},{"m":675,"d":30,"n":601},{"m":690,"d":30,"n":585},{"m":705,"d":30,"n":620},
{"m":720,"d":30,"n":641},{"m":735,"d":30,"n":662},{"m":750,"d":30,"n":662},{"m":765,"d":30,"n":634},{"m":780,"d":30,"n":664},{"m":795,"d":30,"n":644},{"m":810,"d":30,"n":660},{"m":825,"d":30,"n":616},
{"m":840,"d":30,"n":646},{"m":855,"d":30,"n":695},{"m":870,"d":30,"n":608},{"m":885,"d":30,"n":637},{"m":900,"d":30,"n":645},{"m":915,"d":30,"n":591},{"m":930,"d":30,"n":601},{"m":945,"d":30,"n":650},
{"m":960,"d":30,"n":651},{"m":975,"d":30,"n":664},{"m":990,"d":30,"n":680},{"m":1005,"d":30,"n":668},{"m":1020,"d":30,"n":672},{"m":1035,"d":30,"n":660},{"m":1050,"d":30,"n":698},{"m":1065,"d":30,"n":652},
{"m":1080,"d":30,"n":637},{"m":1095,"d":30,"n":697},{"m":1110,"d":30,"n":668},{"m":1125,"d":30,"n":665},{"m":1140,"d":30,"n":705},{"m":1155,"d":30,"n":677},{"m":1170,"d":30,"n":711},{"m":1185,"d":30,"n":838},
{"m":1200,"d":30,"n":738},{"m":1215,"d":30,"n":770},{"m":1230,"d":30,"n":724},{"m":1245,"d":30,"n":725},{"m":1260,"d":30,"n":716},{"m":1275,"d":30,"n":718},{"m":1290,"d":30,"n":707},{"m":1305,"d":30,"n":775},
{"m":1320,"d":30,"n":684},{"m":1335,"d":30,"n":679},{"m":1350,"d":30,"n":740},{"m":1365,"d":30,"n":749},{"m":1380,"d":30,"n":677},{"m":1395,"d":30,"n":648},{"m":1410,"d":30,"n":713},{"m":1425,"d":30,"n":724}
]
},
"hconcat":[
{
"data":{"name":"y2023"},
"title":{"text":"Number of Contrails Detected 24th-30th Jan, 2023"},
"width":790,"height":498,
"mark":{"type":"line","strokeWidth":2.1,"clip":true},
"encoding":{
"x":{"field":"m","type":"quantitative","scale":{"domain":[-71.25,1496.25],"nice":false,"zero":false},
"axis":{"values":[0,120,240,360,480,600,720,840,960,1080,1200,1320],"labelExpr":"(datum.value < 600 ? '0' : '') + (datum.value/60) + '00'","title":"Time of Day (HH:MM)"}},
"y":{"field":"n","type":"quantitative","scale":{"domain":[314,868],"nice":false,"zero":false},
"axis":{"values":[400,500,600,700,800],"title":"Number of Contrails Detected"}},
"color":{"field":"d","type":"nominal","scale":{"domain":[24,25,26,27,28,29,30],"range":["#1f77b4","#ff7f0e","#2ca02c","#d62728","#9467bd","#8c564b","#e377c2"]},
"legend":{"title":"Day","labelExpr":"'Day ' + datum.label","orient":"none","legendX":836,"legendY":7}}
}
},
{
"data":{"name":"y2024"},
"title":{"text":"Number of Contrails Detected 24th-30th Jan, 2024"},
"width":790,"height":498,
"mark":{"type":"line","strokeWidth":2.1,"clip":true},
"encoding":{
"x":{"field":"m","type":"quantitative","scale":{"domain":[-71.25,1496.25],"nice":false,"zero":false},
"axis":{"values":[0,120,240,360,480,600,720,840,960,1080,1200,1320],"labelExpr":"(datum.value < 600 ? '0' : '') + (datum.value/60) + '00'","title":"Time of Day (HH:MM)"}},
"y":{"field":"n","type":"quantitative","scale":{"domain":[314,868],"nice":false,"zero":false},
"axis":{"values":[400,500,600,700,800],"labels":false,"title":"Number of Contrails Detected","titlePadding":1}},
"color":{"field":"d","type":"nominal","scale":{"domain":[24,25,26,27,28,29,30],"range":["#1f77b4","#ff7f0e","#2ca02c","#d62728","#9467bd","#8c564b","#e377c2"]},
"legend":{"title":"Day","labelExpr":"'Day ' + datum.label","orient":"none","legendX":836,"legendY":7}}
}
}
],
"resolve":{"scale":{"color":"independent"}},
"config":{
"font":"DejaVu Sans",
"view":{"stroke":"#000000","strokeWidth":1.1},
"title":{"font":"DejaVu Sans","fontSize":25,"fontWeight":"bold","color":"#000000","anchor":"middle","frame":"group","offset":6},
"axis":{"domain":false,"grid":true,"gridColor":"#b0b0b0","gridWidth":1.1,"tickColor":"#000000","tickSize":5,"tickWidth":1.1,"labelFont":"DejaVu Sans","labelFontSize":13.9,"labelColor":"#000000","labelPadding":5,"titleFont":"DejaVu Sans","titleFontSize":19.4,"titleFontWeight":"bold","titleColor":"#000000","titlePadding":6},
"axisX":{"labelAngle":0,"labelFlush":false,"titlePadding":0},
"legend":{"padding":5.5,"strokeColor":"#cccccc","fillColor":"#ffffff","cornerRadius":3,"titleFont":"DejaVu Sans","titleFontSize":13.9,"titleFontWeight":"normal","titleColor":"#000000","titleAnchor":"middle","titlePadding":6.5,"labelFont":"DejaVu Sans","labelFontSize":13.9,"labelColor":"#000000","labelOffset":9,"symbolType":"stroke","symbolStrokeWidth":2.1,"symbolSize":800,"clipHeight":14,"rowPadding":6}
}
}
